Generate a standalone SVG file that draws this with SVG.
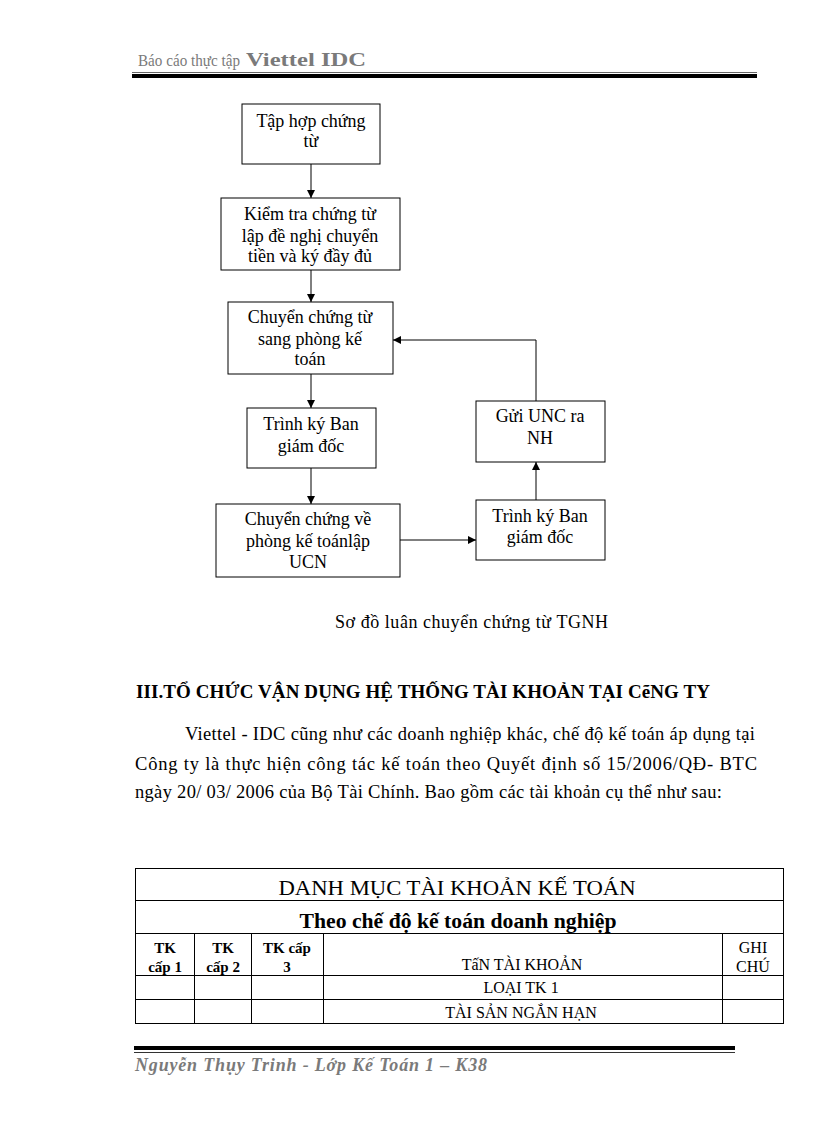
<svg xmlns="http://www.w3.org/2000/svg" width="816" height="1123" viewBox="0 0 816 1123">
<style>
text{font-family:"Liberation Serif","Times New Roman",serif;fill:#000}
.box{fill:#fff;stroke:#000;stroke-width:1}
.n{font-size:18px;text-anchor:middle}
.conn line,.conn polyline{stroke:#000;stroke-width:1;fill:none}
.grid line{stroke:#000;stroke-width:1}
.p{font-size:18.5px}
.th{font-size:16px;text-anchor:middle}
.thb{font-size:15px;text-anchor:middle;font-weight:bold}
.gray{fill:#7a7a7a}
</style>
<defs>
<marker id="arr" viewBox="0 0 10 10" refX="10" refY="5" markerWidth="8" markerHeight="8" markerUnits="userSpaceOnUse" orient="auto">
<path d="M0,0 L10,5 L0,10 z" fill="#000"/>
</marker>
</defs>
<rect width="816" height="1123" fill="#fff"/>

<!-- header -->
<g id="header">
<text x="138" y="66" font-size="17" class="gray" textLength="102" lengthAdjust="spacingAndGlyphs">Báo cáo thực tập</text>
<text x="246" y="66" font-size="19" font-weight="bold" class="gray" textLength="120" lengthAdjust="spacingAndGlyphs">Viettel IDC</text>
<line x1="132" y1="72.5" x2="757" y2="72.5" stroke="#666" stroke-width="1"/>
<rect x="132" y="74" width="625" height="4" fill="#000"/>
</g>

<!-- connectors -->
<g class="conn" id="connectors">
<line x1="311" y1="164" x2="311" y2="198" marker-end="url(#arr)"/>
<line x1="311" y1="270" x2="311" y2="302" marker-end="url(#arr)"/>
<line x1="311" y1="374" x2="311" y2="408" marker-end="url(#arr)"/>
<line x1="311" y1="468" x2="311" y2="504" marker-end="url(#arr)"/>
<line x1="400" y1="540" x2="476" y2="540" marker-end="url(#arr)"/>
<line x1="536" y1="500" x2="536" y2="462" marker-end="url(#arr)"/>
<polyline points="536,401 536,340 393,340" marker-end="url(#arr)"/>
</g>

<g id="n1">
<rect class="box" x="242" y="104" width="138" height="60"/>
<text class="n" x="311" y="127">Tập hợp chứng</text>
<text class="n" x="311" y="147">từ</text>
</g>
<g id="n2">
<rect class="box" x="221" y="198" width="179" height="72"/>
<text class="n" x="310" y="220">Kiểm tra chứng từ</text>
<text class="n" x="310" y="242">lập đề nghị chuyển</text>
<text class="n" x="310" y="262">tiền và ký đầy đủ</text>
</g>
<g id="n3">
<rect class="box" x="228" y="302" width="165" height="72"/>
<text class="n" x="310" y="323">Chuyển chứng từ</text>
<text class="n" x="310" y="345">sang phòng kế</text>
<text class="n" x="310" y="365">toán</text>
</g>
<g id="n4">
<rect class="box" x="247" y="408" width="129" height="60"/>
<text class="n" x="311" y="430">Trình ký Ban</text>
<text class="n" x="311" y="452">giám  đốc</text>
</g>
<g id="n5">
<rect class="box" x="216" y="504" width="184" height="73"/>
<text class="n" x="308" y="525">Chuyển chứng về</text>
<text class="n" x="308" y="547">phòng kế toánlập</text>
<text class="n" x="308" y="568">UCN</text>
</g>
<g id="n6">
<rect class="box" x="476" y="500" width="129" height="60"/>
<text class="n" x="540" y="522">Trình ký Ban</text>
<text class="n" x="540" y="543">giám  đốc</text>
</g>
<g id="n7">
<rect class="box" x="476" y="401" width="129" height="61"/>
<text class="n" x="540" y="422">Gửi UNC ra</text>
<text class="n" x="540" y="444">NH</text>
</g>

<text x="335" y="628" font-size="18" textLength="273" lengthAdjust="spacing">Sơ đồ luân  chuyển chứng từ TGNH</text>

<text x="136" y="698" font-size="19" font-weight="bold" textLength="574" lengthAdjust="spacing">III.TỔ CHỨC VẬN DỤNG HỆ THỐNG TÀI KHOẢN TẠI CẽNG TY</text>
<text class="p" x="185" y="740" textLength="570" lengthAdjust="spacing">Viettel  - IDC cũng như các doanh nghiệp  khác, chế độ kế toán áp dụng tại</text>
<text class="p" x="135" y="770" textLength="622" lengthAdjust="spacing">Công ty là thực hiện  công tác kế toán theo Quyết  định  số 15/2006/QĐ-  BTC</text>
<text class="p" x="135" y="798" textLength="587" lengthAdjust="spacing">ngày 20/ 03/ 2006 của Bộ Tài Chính. Bao gồm các tài khoản cụ thể như sau:</text>

<!-- table -->
<g id="table">
<rect x="135.5" y="868.5" width="648" height="155" fill="none" stroke="#000" stroke-width="1"/>
<g class="grid">
<line x1="135.5" y1="900.5" x2="783.5" y2="900.5"/>
<line x1="135.5" y1="933.5" x2="783.5" y2="933.5"/>
<line x1="135.5" y1="975.5" x2="783.5" y2="975.5"/>
<line x1="135.5" y1="999.5" x2="783.5" y2="999.5"/>
<line x1="194.5" y1="933.5" x2="194.5" y2="1023.5"/>
<line x1="251.5" y1="933.5" x2="251.5" y2="1023.5"/>
<line x1="323.5" y1="933.5" x2="323.5" y2="1023.5"/>
<line x1="722.5" y1="933.5" x2="722.5" y2="1023.5"/>
</g>
<text x="457" y="895" font-size="21" text-anchor="middle" textLength="357" lengthAdjust="spacingAndGlyphs">DANH MỤC TÀI KHOẢN KẾ TOÁN</text>
<text x="458" y="928" font-size="20" font-weight="bold" text-anchor="middle" textLength="317" lengthAdjust="spacingAndGlyphs">Theo chế độ kế toán doanh nghiệp</text>
<text class="thb" x="165" y="953">TK</text>
<text class="thb" x="165" y="972">cấp 1</text>
<text class="thb" x="223" y="953">TK</text>
<text class="thb" x="223" y="972">cấp 2</text>
<text class="thb" x="287" y="953">TK cấp</text>
<text class="thb" x="287" y="972">3</text>
<text class="th" x="522" y="970">TấN TÀI KHOẢN</text>
<text class="th" x="753" y="953">GHI</text>
<text class="th" x="753" y="972">CHÚ</text>
<text class="th" x="521" y="993">LOẠI TK 1</text>
<text class="th" x="521" y="1018">TÀI SẢN NGẮN HẠN</text>
</g>

<!-- footer -->
<g id="footer">
<rect x="134" y="1046" width="601" height="4" fill="#000"/>
<line x1="134" y1="1052.5" x2="735" y2="1052.5" stroke="#333" stroke-width="1"/>
<text x="135" y="1071" font-size="18" font-weight="bold" font-style="italic" class="gray" textLength="352" lengthAdjust="spacing">Nguyễn Thụy Trinh - Lớp Kế Toán 1 – K38</text>
</g>
</svg>
